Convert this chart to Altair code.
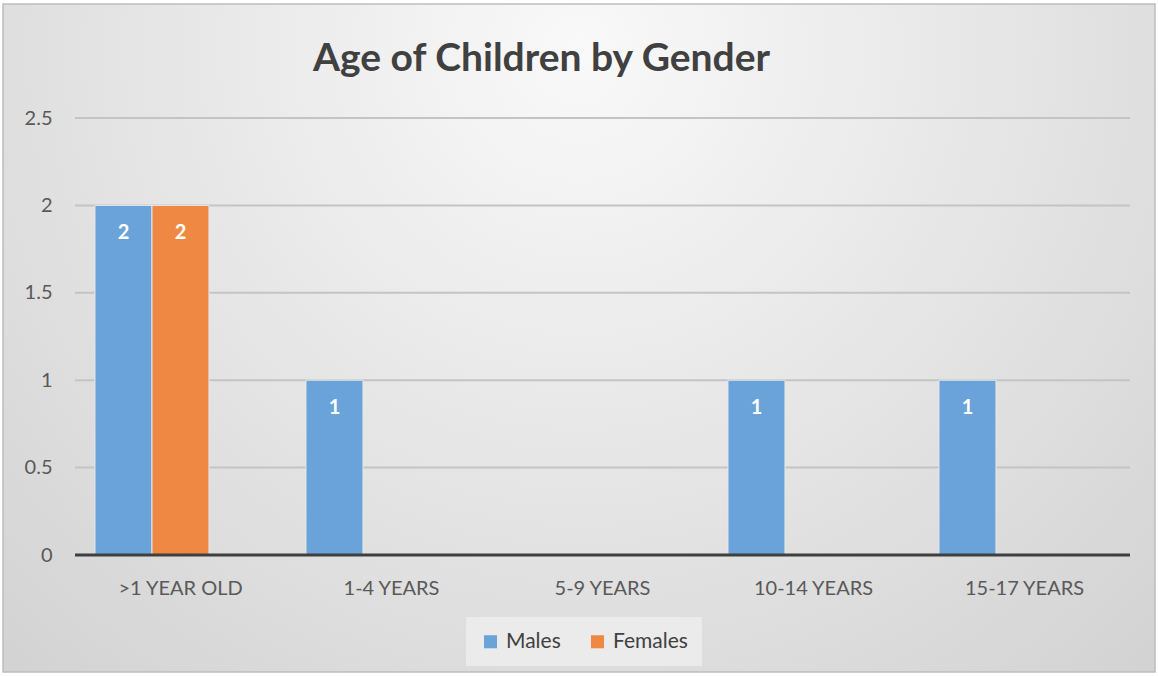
import altair as alt
import pandas as pd

categories = [">1 YEAR OLD", "1-4 YEARS", "5-9 YEARS", "10-14 YEARS", "15-17 YEARS"]
males = [2, 1, 0, 1, 1]
females = [2, 0, 0, 0, 0]
series = ["Males", "Females"]
colors = ["#6aa3d9", "#ef8843"]
y_ticks = [0, 0.5, 1, 1.5, 2, 2.5]

rows = []
for c, m, f in zip(categories, males, females):
    rows.append({"cat": c, "series": "Males", "value": m})
    rows.append({"cat": c, "series": "Females", "value": f})
df = pd.DataFrame(rows)
grid_df = pd.DataFrame({"v": [t for t in y_ticks if t > 0]})
base_df = pd.DataFrame({"v": [0]})

W, H = 1055, 437
FONT = "Lato"

bg = alt.Chart(pd.DataFrame({"a": [0]})).mark_rect(
    fill={"gradient": "radial", "x1": 0.5, "y1": 0.25, "r1": 0,
          "x2": 0.5, "y2": 0.25, "r2": 0.8,
          "stops": [{"offset": 0, "color": "#f9f9f9"}, {"offset": 1, "color": "#cfcfcf"}]},
    stroke="#bdbdbd", strokeWidth=1.5,
).encode(x=alt.value(-72), x2=alt.value(W + 25), y=alt.value(-114), y2=alt.value(H + 117))

grid = alt.Chart(grid_df).mark_rule(color="#c4c4c4", strokeWidth=2).encode(
    y=alt.Y("v:Q", scale=alt.Scale(domain=[0, 2.5], nice=False)),
    x=alt.value(0), x2=alt.value(W),
)
baseline = alt.Chart(base_df).mark_rule(color="#3f3f3f", strokeWidth=3).encode(
    y=alt.Y("v:Q"), x=alt.value(0), x2=alt.value(W),
)

x_enc = alt.X("cat:N", sort=categories, title=None,
              scale=alt.Scale(paddingInner=0, paddingOuter=0),
              axis=alt.Axis(labelAngle=0, domain=False, ticks=False, labelPadding=23,
                            labelFontSize=20, labelColor="#595959", labelFont=FONT,
                            zindex=1))
y_enc = alt.Y("value:Q", title=None,
              scale=alt.Scale(domain=[0, 2.5], nice=False),
              axis=alt.Axis(values=y_ticks, format="~g", grid=False, domain=False, ticks=False,
                            labelPadding=23, labelFontSize=20, labelColor="#595959",
                            labelFont=FONT, zindex=1))
xoff = alt.XOffset("series:N", sort=series,
                   scale=alt.Scale(paddingInner=0, paddingOuter=0.851, align=0.206))

bars = alt.Chart(df).mark_bar(stroke="#e8e8e8", strokeWidth=1).encode(
    x=x_enc,
    xOffset=xoff,
    y=y_enc,
    color=alt.Color("series:N", sort=series,
                    scale=alt.Scale(domain=series, range=colors),
                    legend=alt.Legend(title=None, orient="none", direction="horizontal",
                                      legendX=391, legendY=499, padding=14,
                                      fillColor="#ebebeb", symbolType="square",
                                      symbolSize=170, symbolStrokeWidth=0,
                                      labelFontSize=21, labelColor="#404040", labelFont=FONT,
                                      labelOffset=5, columnPadding=26)),
)

labels = alt.Chart(df).transform_filter("datum.value > 0").mark_text(
    color="white", fontWeight="bold", fontSize=20, font=FONT, dy=28, baseline="middle"
).encode(
    x=alt.X("cat:N", sort=categories),
    xOffset=alt.XOffset("series:N", sort=series),
    y=alt.Y("value:Q"),
    text=alt.Text("value:Q"),
)

chart = alt.layer(bg, grid, bars, baseline, labels).properties(
    width=W, height=H,
    title=alt.TitleParams("Age of Children by Gender", fontSize=39, font=FONT,
                          fontWeight="bold", color="#404040", anchor="middle",
                          offset=-76, dx=-61),
    autosize=alt.AutoSizeParams(type="none"),
    padding={"left": 75, "top": 118, "right": 28, "bottom": 121},
).configure_view(stroke=None).configure(background="white")

chart.save("out.html", embed_options={"renderer": "svg", "actions": False})
